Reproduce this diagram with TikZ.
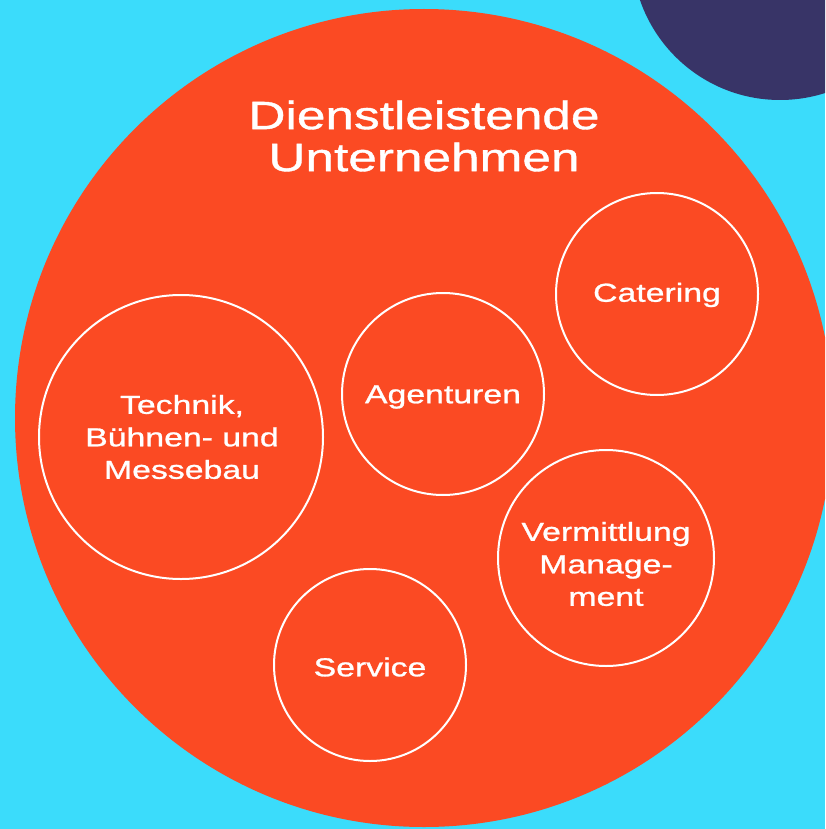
\documentclass[tikz,border=0pt]{standalone}
\usepackage{fontspec}
\setmainfont{Liberation Sans}[FakeStretch=1.3,FakeBold=1]
\definecolor{bgcyan}{HTML}{3BDCFB}
\definecolor{bigred}{HTML}{FB4A23}
\definecolor{navy}{HTML}{383467}
\begin{document}
\begin{tikzpicture}[x=1pt,y=-1pt,
  sub/.style={circle,draw=white,line width=2pt,inner sep=0pt},
  subtext/.style={text=white,align=center,inner sep=0pt,font=\fontsize{26}{32.5}\selectfont},
  titletext/.style={text=white,align=center,font=\fontsize{39.5}{42}\selectfont}]
\useasboundingbox (0,0) rectangle (825,829);
\fill[bgcyan] (0,0) rectangle (825,829);
\begin{scope}
\clip (0,0) rectangle (825,829);
\fill[navy] (780,-48) circle[radius=148];
\fill[bigred] (424,418) circle[radius=409];
\end{scope}
\node[titletext] (title) at (424,136) {Dienstleistende\\Unternehmen};
\node[sub,minimum size=284pt] (tech) at (181,437) {};
\node[sub,minimum size=202pt] (agent) at (443,394) {};
\node[sub,minimum size=202pt] (cater) at (657,294) {};
\node[sub,minimum size=216pt] (verm) at (606,558) {};
\node[sub,minimum size=192pt] (serv) at (370,665) {};
\node[subtext] (techt) at ([xshift=1pt]tech.center) {Technik,\\Bühnen- und\\Messebau};
\node[subtext] (agentt) at ([yshift=-3pt]agent.center) {Agenturen};
\node[subtext] (catert) at ([yshift=-1pt]cater.center) {Catering};
\node[subtext] (vermt) at ([yshift=-6pt]verm.center) {Vermittlung\\Manage-\\ment};
\node[subtext] (servt) at ([yshift=-2pt]serv.center) {Service};
\end{tikzpicture}
\end{document}
